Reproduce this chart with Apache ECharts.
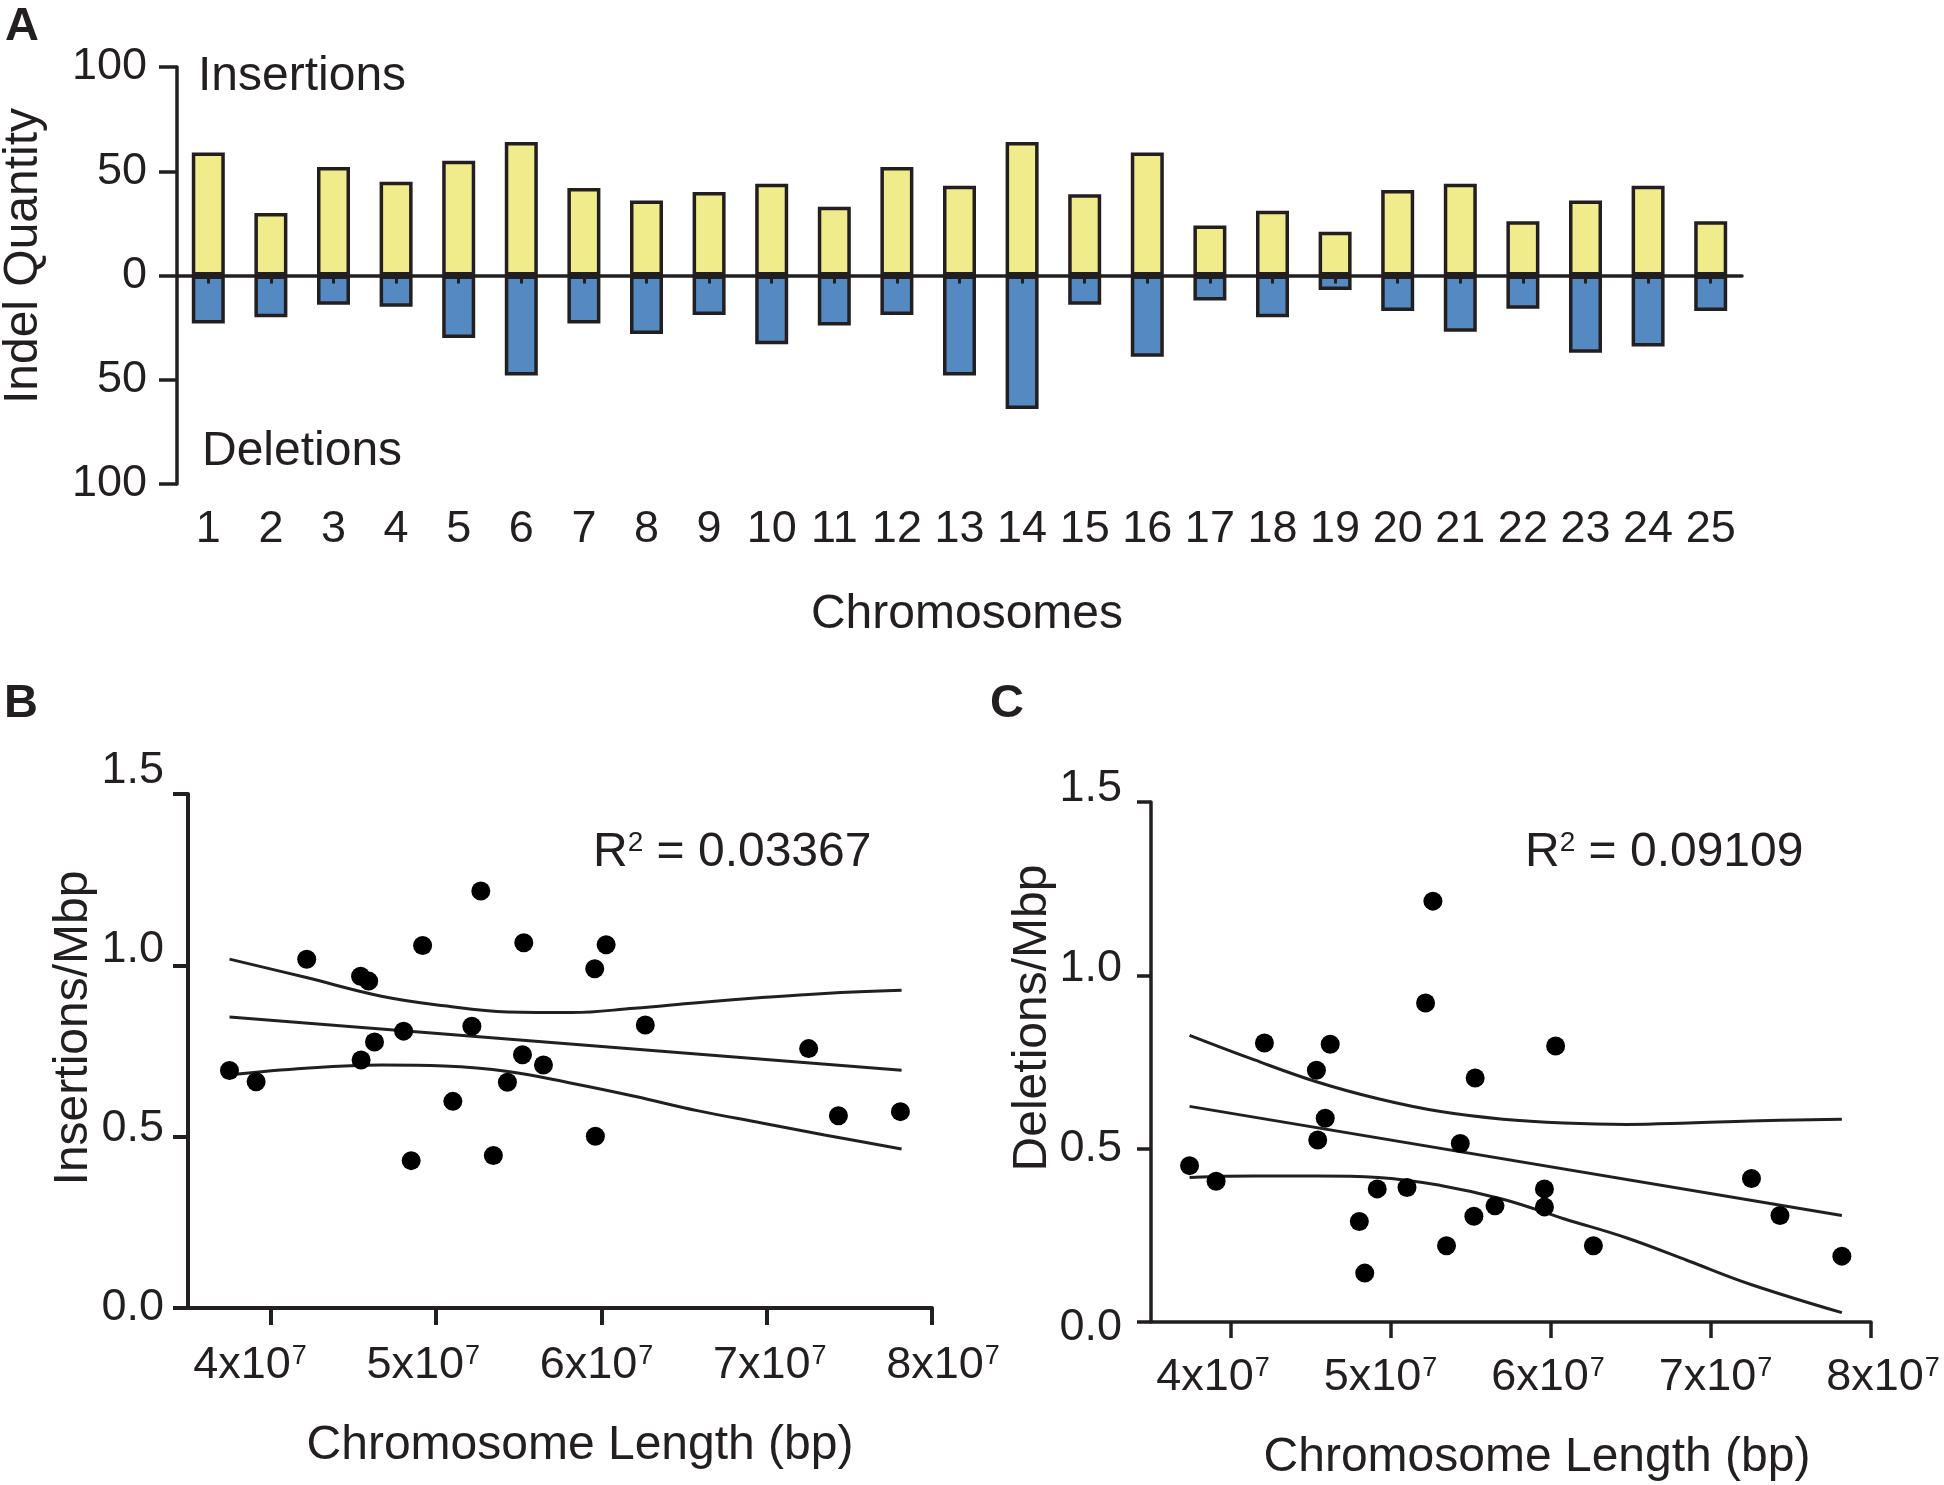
<!DOCTYPE html>
<html><head><meta charset="utf-8">
<script src="https://cdn.jsdelivr.net/npm/echarts@6/dist/echarts.min.js"></script>
<style>html,body{margin:0;padding:0;background:#fff}#c{width:1944px;height:1485px}</style>
</head><body><div id="c"></div>
<script>
// ---------- Panel A data ----------
const chromosomes = ['1','2','3','4','5','6','7','8','9','10','11','12','13','14','15','16','17','18','19','20','21','22','23','24','25'];
const insertions = [59,30,52,45,55,64,42,36,40,44,33,52,43,64,39,59,24,31,21,41,44,26,36,43,26];
const deletions  = [23,20,14,15,30,48,23,28,19,33,24,19,48,64,14,39,12,20,7,17,27,16,37,34,17];
const yTickValuesA = [-100,-50,0,50,100];
const yTickLabelsA = ['100','50','0','50','100'];

// ---------- Panel B data ----------
const lengthB = [37510000,39120000,42180000,45440000,45930000,45470000,46280000,48040000,48500000,49190000,51020000,52170000,52710000,53470000,54320000,55230000,55310000,56500000,59600000,59640000,60290000,62660000,72540000,74340000,78090000];
const insPerMbp = [0.693,0.660,1.018,0.968,0.954,0.724,0.776,0.808,0.430,1.058,0.603,0.822,1.217,0.445,0.659,0.739,1.066,0.709,0.990,0.501,1.060,0.826,0.757,0.561,0.573];
const fitXB = [37510000,78160000];
const fitYB = [0.849,0.694];
const bandXB = [37510000,42100000,46700000,50500000,54350000,58200000,62000000,65800000,69700000,73500000,78160000];
const upperB = [1.018,0.965,0.910,0.882,0.864,0.862,0.875,0.891,0.906,0.918,0.927];
const lowerB = [0.681,0.700,0.709,0.706,0.690,0.656,0.618,0.576,0.540,0.505,0.464];
const r2B = '0.03367';

// ---------- Panel C data ----------
const lengthC = [37410000,39070000,42090000,45340000,46200000,45890000,45420000,48020000,48360000,49140000,51000000,52160000,52620000,53470000,54330000,55260000,55180000,56500000,59590000,59590000,60290000,62650000,72530000,74310000,78180000];
const delPerMbp = [0.451,0.406,0.805,0.726,0.801,0.588,0.525,0.290,0.141,0.384,0.388,0.920,1.214,0.220,0.515,0.704,0.305,0.335,0.384,0.332,0.796,0.220,0.414,0.307,0.190];
const fitXC = [37410000,78180000];
const fitYC = [0.622,0.307];
const bandXC = [37410000,41470000,45340000,49200000,53100000,57000000,60800000,64700000,68600000,72450000,78180000];
const upperC = [0.827,0.756,0.693,0.644,0.607,0.585,0.574,0.570,0.574,0.580,0.585];
const lowerC = [0.417,0.421,0.421,0.417,0.394,0.354,0.298,0.243,0.176,0.109,0.027];
const r2C = '0.09109';

// ---------- shared tick labels ----------
const xTickValues = [40000000,50000000,60000000,70000000,80000000];
const xTickMantissa = ['4','5','6','7','8'];
const xTickExponent = '7';
const yTickValuesBC = [0,0.5,1.0,1.5];
const yTickLabelsBC = ['0.0','0.5','1.0','1.5'];

const INK = '#231f20';
const FONT = '"Liberation Sans", Arial, Helvetica, sans-serif';
const YELLOW = '#f0ec8c';
const BLUE = '#5589c2';

const zip = (xs, ys) => xs.map((x, i) => [x, ys[i]]);
const xLabelFmt = v => {
  const i = xTickValues.indexOf(v);
  return i < 0 ? '' : '{m|' + xTickMantissa[i] + 'x10}{s|' + xTickExponent + '}';
};
const xLabelRich = {
  m: {fontSize: 45, color: INK, fontFamily: FONT},
  s: {fontSize: 27, color: INK, fontFamily: FONT, verticalAlign: 'top', padding: [0,0,0,1]}
};
const yLabelFmtBC = v => {
  const i = yTickValuesBC.findIndex(t => Math.abs(t - v) < 1e-9);
  return i < 0 ? '' : yTickLabelsBC[i];
};
const hidden = {show: false};

const chart = echarts.init(document.getElementById('c'), null, {renderer: 'canvas'});
const option = {
  backgroundColor: '#ffffff',
  animation: false,
  textStyle: {fontFamily: FONT, color: INK},
  grid: [
    {left: 177, top: 67, width: 1565, height: 417},     // 0: A
    {left: 188, top: 794, width: 744, height: 514},     // 1: B
    {left: 1151, top: 802, width: 720, height: 520},    // 2: C
    {left: 250, top: 771, width: 693, height: 537},     // 3: B labels
    {left: 1213, top: 789, width: 670, height: 539}     // 4: C labels
  ],
  xAxis: [
    { // 0: A zero line with ticks
      type: 'category', gridIndex: 0, data: chromosomes, z: 10,
      axisLine: {show: true, onZero: true, lineStyle: {color: INK, width: 3.5}},
      axisTick: {show: true, alignWithLabel: true, length: 8, lineStyle: {color: INK, width: 3}},
      axisLabel: hidden, splitLine: hidden
    },
    { // 1: A labels at bottom
      type: 'category', gridIndex: 0, data: chromosomes, position: 'bottom',
      axisLine: {show: false, onZero: false}, axisTick: hidden, splitLine: hidden,
      axisLabel: {show: true, interval: 0, fontSize: 45, color: INK, fontFamily: FONT, margin: 23}
    },
    { // 2: B real x
      type: 'value', gridIndex: 1, min: 35000000, max: 80000000,
      axisLine: {show: true, onZero: false, lineStyle: {color: INK, width: 4}},
      axisTick: {show: true, length: 17, customValues: xTickValues, lineStyle: {color: INK, width: 4}},
      axisLabel: hidden, splitLine: hidden
    },
    { // 3: C real x
      type: 'value', gridIndex: 2, min: 35000000, max: 80000000,
      axisLine: {show: true, onZero: false, lineStyle: {color: INK, width: 3.5}},
      axisTick: {show: true, length: 16, customValues: xTickValues, lineStyle: {color: INK, width: 3.5}},
      axisLabel: hidden, splitLine: hidden
    },
    { // 4: B x labels
      type: 'value', gridIndex: 3, min: 40000000, max: 80000000, interval: 10000000,
      axisLine: hidden, axisTick: hidden, splitLine: hidden,
      axisLabel: {show: true, margin: 35, formatter: xLabelFmt, rich: xLabelRich, showMinLabel: true, showMaxLabel: true}
    },
    { // 5: C x labels
      type: 'value', gridIndex: 4, min: 40000000, max: 80000000, interval: 10000000,
      axisLine: hidden, axisTick: hidden, splitLine: hidden,
      axisLabel: {show: true, margin: 27, formatter: xLabelFmt, rich: xLabelRich, showMinLabel: true, showMaxLabel: true}
    }
  ],
  yAxis: [
    { // 0: A
      type: 'value', gridIndex: 0, min: -100, max: 100, interval: 50,
      axisLine: {show: true, onZero: false, lineStyle: {color: INK, width: 3.5}},
      axisTick: {show: true, length: 18, lineStyle: {color: INK, width: 3.5}},
      axisLabel: {show: true, fontSize: 45, color: INK, fontFamily: FONT, margin: 30, padding: [8,0,0,0],
        formatter: v => { const i = yTickValuesA.indexOf(v); return i < 0 ? '' : yTickLabelsA[i]; }},
      splitLine: hidden
    },
    { // 1: B real y
      type: 'value', gridIndex: 1, min: 0, max: 1.5, interval: 0.5,
      axisLine: {show: true, onZero: false, lineStyle: {color: INK, width: 4}},
      axisTick: {show: true, length: 15, lineStyle: {color: INK, width: 4}},
      axisLabel: hidden, splitLine: hidden
    },
    { // 2: C real y
      type: 'value', gridIndex: 2, min: 0, max: 1.5, interval: 0.5,
      axisLine: {show: true, onZero: false, lineStyle: {color: INK, width: 3.5}},
      axisTick: {show: true, length: 14, lineStyle: {color: INK, width: 3.5}},
      axisLabel: hidden, splitLine: hidden
    },
    { // 3: B y labels
      type: 'value', gridIndex: 3, min: 0, max: 1.5, interval: 0.5,
      axisLine: hidden, axisTick: hidden, splitLine: hidden,
      axisLabel: {show: true, fontSize: 45, color: INK, fontFamily: FONT, margin: 86, formatter: yLabelFmtBC}
    },
    { // 4: C y labels
      type: 'value', gridIndex: 4, min: 0, max: 1.5, interval: 0.5,
      axisLine: hidden, axisTick: hidden, splitLine: hidden,
      axisLabel: {show: true, fontSize: 45, color: INK, fontFamily: FONT, margin: 91, formatter: yLabelFmtBC}
    }
  ],
  series: [
    {
      name: 'Insertions', type: 'bar', xAxisIndex: 0, yAxisIndex: 0,
      data: insertions, barWidth: 33, barGap: '-100%',
      itemStyle: {color: YELLOW, borderColor: INK, borderWidth: 3.5}
    },
    {
      name: 'Deletions', type: 'bar', xAxisIndex: 0, yAxisIndex: 0,
      data: deletions.map(v => -v), barWidth: 33, barGap: '-100%',
      itemStyle: {color: BLUE, borderColor: INK, borderWidth: 3.5}
    },
    // Panel B
    {type: 'line', xAxisIndex: 2, yAxisIndex: 1, data: zip(bandXB, upperB), symbol: 'none', smooth: 0.4,
      lineStyle: {color: INK, width: 3}, silent: true},
    {type: 'line', xAxisIndex: 2, yAxisIndex: 1, data: zip(fitXB, fitYB), symbol: 'none',
      lineStyle: {color: INK, width: 3}, silent: true},
    {type: 'line', xAxisIndex: 2, yAxisIndex: 1, data: zip(bandXB, lowerB), symbol: 'none', smooth: 0.4,
      lineStyle: {color: INK, width: 3}, silent: true},
    {name: 'Insertions/Mbp', type: 'scatter', xAxisIndex: 2, yAxisIndex: 1, data: zip(lengthB, insPerMbp),
      symbol: 'circle', symbolSize: 19, itemStyle: {color: '#000000', opacity: 1}, z: 5},
    // Panel C
    {type: 'line', xAxisIndex: 3, yAxisIndex: 2, data: zip(bandXC, upperC), symbol: 'none', smooth: 0.4,
      lineStyle: {color: INK, width: 3}, silent: true},
    {type: 'line', xAxisIndex: 3, yAxisIndex: 2, data: zip(fitXC, fitYC), symbol: 'none',
      lineStyle: {color: INK, width: 3}, silent: true},
    {type: 'line', xAxisIndex: 3, yAxisIndex: 2, data: zip(bandXC, lowerC), symbol: 'none', smooth: 0.4,
      lineStyle: {color: INK, width: 3}, silent: true},
    {name: 'Deletions/Mbp', type: 'scatter', xAxisIndex: 3, yAxisIndex: 2, data: zip(lengthC, delPerMbp),
      symbol: 'circle', symbolSize: 19, itemStyle: {color: '#000000', opacity: 1}, z: 5}
  ],
  graphic: [
    {type: 'text', left: 5, top: 4, style: {text: 'A', fontSize: 47, fontWeight: 'bold', fill: INK, fontFamily: FONT}},
    {type: 'text', left: 4, top: 681, style: {text: 'B', fontSize: 47, fontWeight: 'bold', fill: INK, fontFamily: FONT}},
    {type: 'text', left: 990, top: 681, style: {text: 'C', fontSize: 47, fontWeight: 'bold', fill: INK, fontFamily: FONT}},
    {type: 'text', x: 198, y: 77, style: {text: 'Insertions', fontSize: 48, fill: INK, fontFamily: FONT, textAlign: 'left', textVerticalAlign: 'middle'}},
    {type: 'text', x: 202, y: 452, style: {text: 'Deletions', fontSize: 48, fill: INK, fontFamily: FONT, textAlign: 'left', textVerticalAlign: 'middle'}},
    {type: 'text', x: 967, y: 615, style: {text: 'Chromosomes', fontSize: 48, fill: INK, fontFamily: FONT, textAlign: 'center', textVerticalAlign: 'middle'}},
    {type: 'text', x: 24, y: 256, rotation: Math.PI / 2, style: {text: 'Indel Quantity', fontSize: 48, fill: INK, fontFamily: FONT, textAlign: 'center', textVerticalAlign: 'middle'}},
    {type: 'text', x: 74, y: 1028, rotation: Math.PI / 2, style: {text: 'Insertions/Mbp', fontSize: 48, fill: INK, fontFamily: FONT, textAlign: 'center', textVerticalAlign: 'middle'}},
    {type: 'text', x: 1033, y: 1018, rotation: Math.PI / 2, style: {text: 'Deletions/Mbp', fontSize: 48, fill: INK, fontFamily: FONT, textAlign: 'center', textVerticalAlign: 'middle'}},
    {type: 'text', x: 580, y: 1446, style: {text: 'Chromosome Length (bp)', fontSize: 48, fill: INK, fontFamily: FONT, textAlign: 'center', textVerticalAlign: 'middle'}},
    {type: 'text', x: 1537, y: 1458, style: {text: 'Chromosome Length (bp)', fontSize: 48, fill: INK, fontFamily: FONT, textAlign: 'center', textVerticalAlign: 'middle'}},
    {type: 'text', x: 593, y: 853, style: {text: '{r|R}{s|2}{r| = ' + r2B + '}', textAlign: 'left', textVerticalAlign: 'middle',
      rich: {r: {fontSize: 48, fill: INK, fontFamily: FONT}, s: {fontSize: 28, fill: INK, fontFamily: FONT, verticalAlign: 'top'}}}},
    {type: 'text', x: 1525, y: 853, style: {text: '{r|R}{s|2}{r| = ' + r2C + '}', textAlign: 'left', textVerticalAlign: 'middle',
      rich: {r: {fontSize: 48, fill: INK, fontFamily: FONT}, s: {fontSize: 28, fill: INK, fontFamily: FONT, verticalAlign: 'top'}}}}
  ]
};
chart.setOption(option);
</script>
</body></html>
